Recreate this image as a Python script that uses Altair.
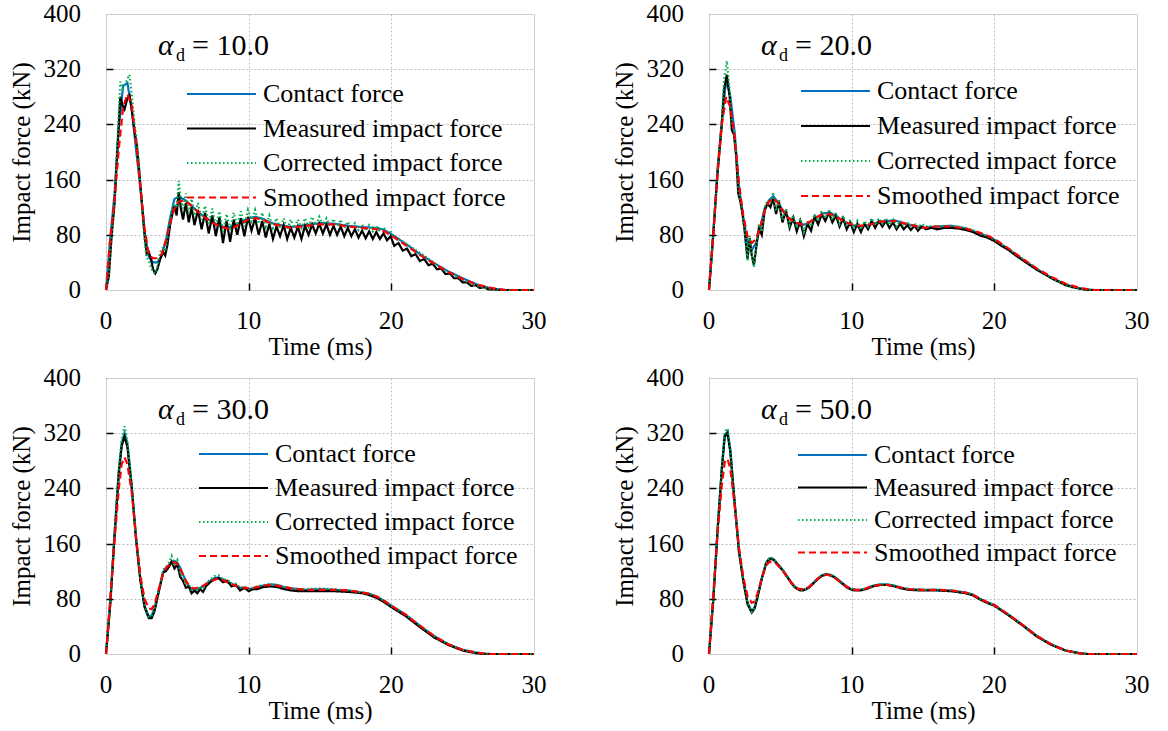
import altair as alt
import pandas as pd

FONT = "'Times New Roman', 'Liberation Serif', 'DejaVu Serif', serif"
W, H = 428, 276

SERIES = ["Contact force", "Measured impact force", "Corrected impact force", "Smoothed impact force"]
COLORS = ["#0070C0", "#000000", "#00B050", "#FF0000"]
DASHES = [[1, 0], [1, 0], [1.5, 2.5], [7, 4]]
ALPHA_LABELS = ["10.0", "20.0", "30.0", "50.0"]
X_TICKS = [0, 10, 20, 30]
Y_TICKS = [0, 80, 160, 240, 320, 400]
X_INNER_TICKS = [10, 20]
Y_INNER_TICKS = [80, 160, 240, 320]

# ---------------- coarse time grid (panels 1 and 2, smooth series) ----------------
time_coarse = [
    0, 0.3, 0.6, 0.9, 1.2, 1.5, 1.8, 2.1, 2.4, 2.7,
    3.0, 3.3, 3.6, 3.9, 4.2, 4.5, 4.8, 5.1, 5.5, 6.0,
    6.5, 7.0, 7.5, 8.0, 8.5, 9.0, 9.5, 10.0, 10.5, 11.0,
    11.5, 12.0, 13.0, 14.0, 15.0, 16.0, 17.0, 18.0, 19.0, 19.5,
    20.0, 21.0, 22.0, 23.0, 24.0, 25.0, 26.0, 27.0, 28.0, 30.0,
]

# ---------------- panel 1 (alpha_d = 10.0) ----------------
p1_contact = [
    0, 75, 140, 235, 296, 300, 262, 205, 150, 85,
    48, 40, 40, 50, 72, 105, 132, 135, 131, 122,
    112, 105, 98, 93, 90, 93, 99, 104, 106, 103,
    98, 95, 91, 94, 97, 96, 93, 91, 90, 87,
    81, 67, 52, 39, 27, 17, 8, 2, 0, 0,
]
p1_smoothed = [
    0, 75, 130, 205, 265, 284, 268, 215, 150, 90,
    50, 46, 46, 52, 72, 98, 118, 128, 130, 122,
    112, 104, 97, 92, 89, 91, 97, 102, 104, 102,
    97, 94, 90, 93, 95, 95, 92, 90, 88, 85,
    79, 65, 51, 38, 26, 16, 8, 3, 0, 0,
]
p1_time_fine = [
    0, 0.2, 0.4, 0.6, 0.8, 1.0, 1.15, 1.3, 1.5, 1.65,
    1.8, 2.0, 2.15, 2.3, 2.5, 2.7, 2.85, 3.0, 3.15, 3.3,
    3.45, 3.6, 3.8, 4.0, 4.15, 4.3, 4.5, 4.65, 4.8, 4.95,
    5.1, 5.25, 5.4, 5.6, 5.8, 6.0, 6.2, 6.45, 6.7, 6.95,
    7.2, 7.45, 7.7, 7.95, 8.2, 8.45, 8.7, 8.95, 9.2, 9.45,
    9.7, 9.95, 10.2, 10.45, 10.7, 10.95, 11.2, 11.45, 11.7, 11.95,
    12.2, 12.45, 12.7, 12.95, 13.2, 13.45, 13.7, 13.95, 14.2, 14.45,
    14.7, 14.95, 15.2, 15.45, 15.7, 15.95, 16.2, 16.45, 16.7, 16.95,
    17.2, 17.45, 17.7, 17.95, 18.2, 18.45, 18.7, 18.95, 19.2, 19.45,
    19.7, 19.95, 20.2, 20.5, 20.8, 21.1, 21.4, 21.7, 22.0, 22.3,
    22.6, 22.9, 23.2, 23.5, 23.8, 24.1, 24.4, 24.7, 25.0, 25.3,
    25.6, 25.9, 26.2, 26.5, 26.8, 27.2, 27.5, 30.0,
]
p1_measured = [
    0, 20, 80, 125, 205, 280, 268, 262, 278, 282,
    262, 230, 212, 180, 130, 80, 52, 55, 45, 30,
    24, 30, 45, 55, 50, 65, 95, 110, 122, 108,
    142, 118, 102, 126, 98, 120, 94, 116, 88, 112,
    82, 108, 78, 106, 68, 100, 70, 102, 80, 104,
    78, 106, 86, 104, 80, 100, 76, 96, 74, 92,
    78, 94, 74, 90, 76, 92, 74, 93, 80, 95,
    82, 96, 82, 95, 80, 93, 80, 92, 78, 90,
    78, 88, 76, 86, 75, 85, 74, 84, 74, 82,
    72, 78, 64, 68, 57, 60, 49, 52, 42, 45,
    36, 38, 30, 31, 23, 24, 17, 17, 11, 11,
    6, 7, 3, 4, 1, 1, 0, 0,
]
p1_corrected = [
    0, 22, 85, 130, 215, 302, 292, 296, 306, 312,
    285, 240, 218, 182, 128, 72, 48, 42, 32, 26,
    24, 34, 55, 62, 56, 75, 100, 118, 125, 120,
    158, 130, 118, 140, 112, 132, 108, 126, 102, 122,
    96, 118, 92, 114, 84, 110, 86, 112, 94, 114,
    92, 116, 100, 116, 96, 112, 92, 108, 90, 104,
    90, 104, 88, 102, 90, 102, 90, 104, 92, 106,
    94, 106, 94, 104, 92, 103, 92, 102, 90, 99,
    89, 97, 87, 95, 86, 94, 85, 93, 85, 91,
    84, 84, 76, 74, 70, 66, 62, 58, 54, 50,
    45, 41, 36, 33, 28, 25, 21, 18, 15, 12,
    9, 7, 5, 3, 2, 1, 0, 0,
]

# ---------------- panel 2 (alpha_d = 20.0) ----------------
p2_contact = [
    0, 82, 175, 245, 305, 280, 228, 150, 105, 68,
    58, 68, 92, 118, 130, 136, 128, 118, 106, 98,
    94, 97, 105, 111, 112, 106, 99, 94, 92, 93,
    96, 99, 101, 95, 90, 92, 93, 89, 82, 78,
    73, 59, 44, 30, 18, 8, 2, 0, 0, 0,
]
p2_smoothed = [
    0, 82, 170, 240, 280, 265, 222, 155, 108, 78,
    68, 74, 92, 115, 128, 133, 127, 117, 106, 98,
    95, 98, 105, 110, 110, 105, 99, 95, 93, 94,
    96, 99, 100, 95, 90, 92, 92, 89, 83, 79,
    74, 60, 45, 31, 19, 9, 3, 0, 0, 0,
]
p2_time_fine = [
    0, 0.3, 0.6, 0.9, 1.05, 1.25, 1.45, 1.6, 1.75, 1.9,
    2.05, 2.2, 2.35, 2.5, 2.7, 2.85, 3.0, 3.15, 3.3, 3.5,
    3.7, 3.9, 4.1, 4.3, 4.5, 4.7, 4.9, 5.15, 5.4, 5.65,
    5.9, 6.15, 6.4, 6.65, 6.9, 7.15, 7.4, 7.65, 7.9, 8.15,
    8.4, 8.65, 8.9, 9.15, 9.4, 9.65, 9.9, 10.15, 10.4, 10.65,
    10.9, 11.15, 11.4, 11.65, 11.9, 12.15, 12.4, 12.65, 12.9, 13.15,
    13.4, 13.65, 13.9, 14.15, 14.4, 14.65, 14.9, 15.2, 15.6, 16.0,
    16.5, 17.0, 17.5, 18.0, 18.5, 19.0, 19.5, 20.0, 20.5, 21.0,
    21.5, 22.0, 22.5, 23.0, 23.5, 24.0, 24.5, 25.0, 25.5, 26.0,
    26.5, 27.0, 30.0,
]
p2_measured = [
    0, 80, 170, 240, 290, 312, 280, 232, 225, 195,
    140, 128, 110, 85, 45, 75, 50, 36, 60, 90,
    80, 115, 125, 120, 133, 110, 128, 98, 115, 90,
    105, 85, 100, 78, 96, 86, 106, 95, 110, 100,
    112, 98, 108, 92, 104, 88, 98, 84, 96, 84,
    96, 88, 100, 90, 100, 92, 100, 90, 98, 88,
    96, 88, 94, 87, 93, 86, 92, 88, 90, 88,
    90, 90, 89, 87, 84, 79, 76, 71, 64, 58,
    50, 43, 36, 29, 23, 17, 12, 7, 4, 2,
    0, 0, 0,
]
p2_corrected = [
    0, 82, 175, 248, 305, 332, 290, 240, 232, 200,
    145, 130, 112, 88, 42, 78, 52, 33, 62, 95,
    84, 120, 130, 126, 142, 114, 132, 102, 118, 94,
    108, 90, 104, 84, 100, 92, 110, 100, 115, 104,
    116, 102, 112, 96, 108, 92, 102, 88, 100, 88,
    100, 92, 104, 94, 104, 96, 104, 94, 102, 92,
    100, 92, 98, 91, 97, 90, 96, 92, 93, 92,
    93, 93, 92, 90, 87, 82, 78, 73, 66, 60,
    52, 45, 38, 31, 24, 18, 12, 7, 4, 2,
    0, 0, 0,
]

# ---------------- shared grid for panels 3 and 4 ----------------
time_grid_34 = [
    0, 0.3, 0.6, 0.9, 1.1, 1.3, 1.5, 1.8, 2.1, 2.4,
    2.7, 3.0, 3.2, 3.4, 3.7, 4.0, 4.2, 4.4, 4.6, 4.8,
    5.0, 5.2, 5.4, 5.6, 5.8, 6.0, 6.2, 6.4, 6.6, 6.8,
    7.0, 7.3, 7.6, 7.9, 8.2, 8.5, 8.8, 9.1, 9.4, 9.7,
    10.0, 10.3, 10.6, 11.0, 11.5, 12.0, 12.5, 13.0, 13.5, 14.0,
    15.0, 16.0, 17.0, 18.0, 18.5, 19.0, 19.5, 20.0, 21.0, 22.0,
    23.0, 24.0, 25.0, 26.0, 26.5, 27.0, 30.0,
]

# ---------------- panel 3 (alpha_d = 30.0) ----------------
p3_contact = [
    0, 75, 175, 265, 305, 320, 305, 245, 170, 110,
    70, 54, 56, 66, 92, 118, 125, 128, 134, 135,
    132, 125, 115, 106, 98, 94, 93, 94, 96, 98,
    101, 106, 110, 111, 108, 105, 102, 99, 96, 95,
    94, 95, 97, 99, 101, 100, 97, 95, 94, 93,
    94, 93, 92, 89, 87, 83, 77, 70, 57, 41,
    26, 14, 6, 2, 0.5, 0, 0,
]
p3_measured = [
    0, 72, 170, 262, 302, 315, 300, 242, 168, 108,
    68, 52, 52, 62, 90, 118, 120, 126, 134, 124,
    130, 112, 106, 96, 98, 88, 92, 88, 94, 90,
    98, 104, 108, 110, 104, 106, 98, 100, 92, 96,
    91, 94, 94, 97, 98, 97, 94, 92, 91, 91,
    91, 91, 90, 88, 85, 81, 75, 68, 55, 39,
    24, 13, 5, 1, 0, 0, 0,
]
p3_corrected = [
    0, 76, 178, 270, 312, 330, 308, 246, 170, 110,
    70, 54, 55, 66, 92, 122, 126, 132, 142, 128,
    136, 116, 110, 100, 102, 92, 96, 92, 98, 94,
    102, 108, 113, 114, 108, 108, 102, 102, 96, 98,
    94, 96, 98, 100, 101, 100, 97, 95, 94, 94,
    95, 94, 92, 89, 87, 83, 77, 70, 57, 41,
    26, 14, 6, 2, 0.5, 0, 0,
]
p3_smoothed = [
    0, 80, 165, 240, 275, 285, 275, 235, 170, 115,
    80, 66, 65, 72, 94, 116, 124, 129, 133, 133,
    130, 124, 115, 106, 100, 96, 95, 96, 97, 99,
    101, 105, 108, 109, 107, 104, 101, 99, 97, 96,
    95, 96, 97, 99, 100, 99, 97, 95, 94, 93,
    93, 93, 92, 89, 87, 83, 77, 70, 57, 41,
    26, 14, 6, 2, 0.5, 0, 0,
]

# ---------------- panel 4 (alpha_d = 50.0) ----------------
p4_contact = [
    0, 80, 180, 270, 318, 322, 295, 220, 150, 108,
    75, 62, 68, 84, 110, 132, 138, 139, 136, 131,
    126, 121, 115, 109, 103, 98, 95, 93, 93, 94,
    97, 103, 109, 114, 116, 115, 112, 107, 102, 97,
    94, 93, 93, 95, 99, 101, 101, 99, 96, 94,
    93, 93, 92, 89, 86, 80, 75, 71, 57, 42,
    26, 14, 5, 1, 0, 0, 0,
]
p4_measured = [
    0, 78, 178, 268, 315, 320, 292, 218, 148, 106,
    72, 60, 66, 82, 109, 131, 137, 138, 135, 130,
    125, 120, 114, 108, 102, 97, 94, 92, 92, 94,
    96, 102, 108, 113, 115, 114, 111, 106, 101, 96,
    93, 92, 92, 94, 98, 100, 100, 98, 95, 93,
    92, 92, 91, 88, 85, 79, 74, 70, 56, 41,
    25, 13, 5, 1, 0, 0, 0,
]
p4_corrected = [
    0, 80, 182, 272, 322, 327, 296, 220, 150, 108,
    74, 61, 67, 84, 110, 132, 138, 139, 136, 131,
    126, 121, 115, 109, 103, 98, 95, 93, 93, 94,
    97, 103, 109, 114, 116, 115, 112, 107, 102, 97,
    94, 93, 93, 95, 99, 101, 101, 99, 96, 94,
    93, 93, 92, 89, 86, 80, 75, 71, 57, 42,
    26, 14, 5, 1, 0, 0, 0,
]
p4_smoothed = [
    0, 85, 175, 245, 278, 283, 268, 215, 155, 112,
    84, 74, 76, 88, 110, 128, 133, 134, 133, 129,
    125, 120, 114, 108, 103, 98, 95, 94, 94, 95,
    97, 103, 109, 113, 115, 114, 111, 106, 101, 97,
    94, 93, 93, 95, 99, 100, 100, 98, 96, 94,
    93, 93, 92, 89, 86, 80, 75, 71, 57, 42,
    26, 14, 5, 1, 0, 0, 0,
]


def build_df(parts):
    rows = []
    for name, ts, fs in parts:
        for t, f in zip(ts, fs):
            rows.append({"t": t, "f": f, "series": name})
    return pd.DataFrame(rows)


panel_data = [
    build_df([
        (SERIES[0], time_coarse, p1_contact),
        (SERIES[1], p1_time_fine, p1_measured),
        (SERIES[2], p1_time_fine, p1_corrected),
        (SERIES[3], time_coarse, p1_smoothed),
    ]),
    build_df([
        (SERIES[0], time_coarse, p2_contact),
        (SERIES[1], p2_time_fine, p2_measured),
        (SERIES[2], p2_time_fine, p2_corrected),
        (SERIES[3], time_coarse, p2_smoothed),
    ]),
    build_df([
        (SERIES[0], time_grid_34, p3_contact),
        (SERIES[1], time_grid_34, p3_measured),
        (SERIES[2], time_grid_34, p3_corrected),
        (SERIES[3], time_grid_34, p3_smoothed),
    ]),
    build_df([
        (SERIES[0], time_grid_34, p4_contact),
        (SERIES[1], time_grid_34, p4_measured),
        (SERIES[2], time_grid_34, p4_corrected),
        (SERIES[3], time_grid_34, p4_smoothed),
    ]),
]

# legend placement per panel (x, y, row padding) in plot pixels
legend_layout = [(80, 67, 8.5), (91, 64, 9), (92, 63, 8), (88, 64, 6.5)]

x_scale = alt.Scale(domain=[0, 30], nice=False, zero=False)
y_scale = alt.Scale(domain=[0, 400], nice=False, zero=False)

x_tick_df = pd.DataFrame({"v": X_TICKS})
y_tick_df = pd.DataFrame({"v": Y_TICKS})


def make_panel(i):
    df = panel_data[i]
    lx, ly, rp = legend_layout[i]
    leg = alt.Legend(
        title=None, orient="none", legendX=lx, legendY=ly, padding=0,
        symbolType="stroke", symbolSize=4761, symbolStrokeWidth=2,
        labelFont=FONT, labelFontSize=26, labelColor="black", labelOffset=6,
        labelLimit=500, clipHeight=26, rowPadding=rp,
    )
    lines = alt.Chart(df).mark_line(strokeWidth=2.2).encode(
        x=alt.X("t:Q", scale=x_scale, axis=alt.Axis(
            values=X_TICKS, title="Time (ms)", labels=False, ticks=False, domain=False,
            grid=True, gridColor="#C0C0C0", gridDash=[2, 2], gridWidth=1,
            titleFont=FONT, titleFontSize=25, titleFontWeight="normal",
            titleColor="black", titlePadding=44)),
        y=alt.Y("f:Q", scale=y_scale, axis=alt.Axis(
            values=Y_TICKS, title="Impact force (kN)", labels=False, ticks=False, domain=False,
            grid=True, gridColor="#C0C0C0", gridDash=[2, 2], gridWidth=1,
            titleFont=FONT, titleFontSize=25, titleFontWeight="normal",
            titleColor="black", titlePadding=72)),
        color=alt.Color("series:N", scale=alt.Scale(domain=SERIES, range=COLORS), legend=leg),
        strokeDash=alt.StrokeDash("series:N", scale=alt.Scale(domain=SERIES, range=DASHES), legend=leg),
    )
    ticks = alt.Chart(pd.DataFrame({"t": [0], "f": [0]})).mark_point(opacity=0).encode(
        x=alt.X("t:Q", scale=x_scale, axis=alt.Axis(
            orient="top", offset=-H, values=X_INNER_TICKS, labels=False, domain=False,
            grid=False, ticks=True, tickSize=7, tickColor="black", tickWidth=1.5, title=None)),
        y=alt.Y("f:Q", scale=y_scale, axis=alt.Axis(
            orient="right", offset=-W, values=Y_INNER_TICKS, labels=False, domain=False,
            grid=False, ticks=True, tickSize=7, tickColor="black", tickWidth=1.5, title=None)),
    )
    x_labels = alt.Chart(x_tick_df).mark_text(
        font=FONT, fontSize=25, align="center", baseline="top", color="black"
    ).encode(
        x=alt.X("v:Q", scale=x_scale, axis=None),
        y=alt.value(H + 19),
        text=alt.Text("v:Q", format="d"),
    )
    y_labels = alt.Chart(y_tick_df).mark_text(
        font=FONT, fontSize=25, align="right", baseline="middle", color="black"
    ).encode(
        x=alt.value(-25),
        y=alt.Y("v:Q", scale=y_scale, axis=None),
        text=alt.Text("v:Q", format="d"),
    )
    ann_df = pd.DataFrame({"label": ["= " + ALPHA_LABELS[i]]})
    alpha_txt = alt.Chart(ann_df).mark_text(
        text="α", font=FONT, fontSize=30, fontStyle="italic", align="left",
        baseline="alphabetic", color="black").encode(x=alt.value(52), y=alt.value(41))
    sub_txt = alt.Chart(ann_df).mark_text(
        text="d", font=FONT, fontSize=18, align="left",
        baseline="alphabetic", color="black").encode(x=alt.value(70), y=alt.value(47))
    val_txt = alt.Chart(ann_df).mark_text(
        font=FONT, fontSize=30, align="left",
        baseline="alphabetic", color="black").encode(
        text="label:N", x=alt.value(86), y=alt.value(41))
    return alt.layer(lines, ticks, x_labels, y_labels, alpha_txt, sub_txt, val_txt).resolve_axis(
        x="independent", y="independent"
    ).properties(width=W, height=H)


panels = [make_panel(i) for i in range(4)]

chart = alt.concat(
    *panels, columns=2, spacing={"row": 88, "column": 175}, bounds="flush"
).resolve_legend(
    color="independent", strokeDash="independent"
).properties(
    padding={"left": 8, "top": 1, "right": 5, "bottom": 5}
).configure_view(
    stroke="black", strokeWidth=2
).configure(background="white", font=FONT)

chart.save("out.html", embed_options={"renderer": "svg", "actions": False})
